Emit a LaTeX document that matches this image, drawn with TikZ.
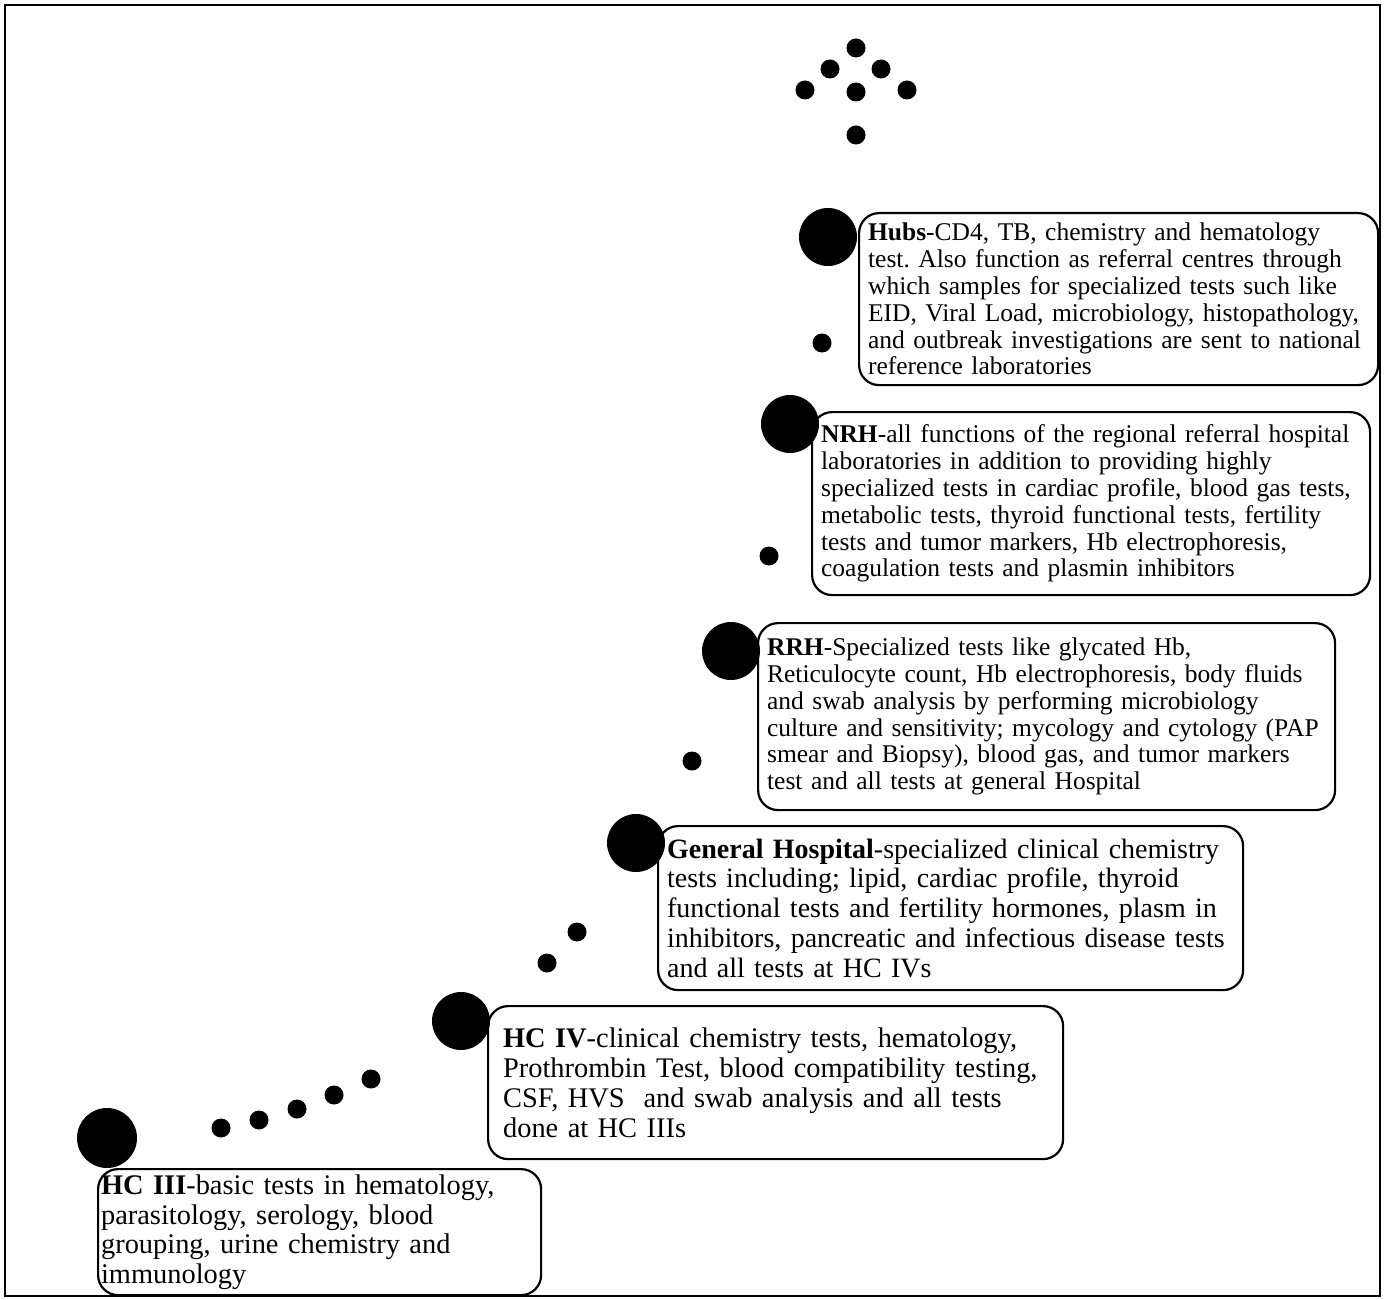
\documentclass[tikz,border=0pt]{standalone}
\usepackage{fontspec}
\setmainfont{Liberation Serif}
\frenchspacing

\begin{document}
\begin{tikzpicture}[x=0.5pt, y=-0.5pt,
      box/.style={draw, rounded corners=10pt, line width=1.1pt, align=left, anchor=north west, inner ysep=0pt},
      upper/.style={font=\fontsize{12.75}{13.4}\selectfont},
      lower/.style={font=\fontsize{14.2}{14.9}\selectfont},
      dot/.style={circle, fill, inner sep=0pt, minimum size=9.5pt},
      bigdot/.style={circle, fill, inner sep=0pt, minimum size=29pt}
    ]
      \useasboundingbox (0,0) rectangle (1384,1299);
      \draw[line width=0.8pt] (5,5) rectangle (1380,1296);

      % arrow of dots on top
      \node[dot] (tip)  at (856,48)  {};
      \node[dot] (tl)   at (830,69)  {};
      \node[dot] (tr)   at (881,69)  {};
      \node[dot] (ll)   at (805,90)  {};
      \node[dot] (mid)  at (856,92)  {};
      \node[dot] (rr)   at (907,90)  {};
      \node[dot] (stem) at (856,135) {};

      % levels
      \node[box, upper, inner xsep=4.5pt, text width=250.5pt, minimum height=86pt] (hubs) at (858,212) {\textbf{Hubs}-CD4, TB, chemistry and hematology\\
test. Also function as referral centres through\\
which samples for specialized tests such like\\
EID, Viral Load, microbiology, histopathology,\\
and outbreak investigations are sent to national\\
reference laboratories};
      \node[bigdot] (hubsdot) at (828,237) {};
      \node[dot] (d1) at (822,343) {};

      \node[box, upper, inner xsep=4.5pt, text width=270pt, minimum height=91.5pt] (nrh) at (811,411) {\textbf{NRH}-all functions of the regional referral hospital\\
laboratories in addition to providing highly\\
specialized tests in cardiac profile, blood gas tests,\\
metabolic tests, thyroid functional tests, fertility\\
tests and tumor markers, Hb electrophoresis,\\
coagulation tests and plasmin inhibitors};
      \node[bigdot] (nrhdot) at (790,424) {};
      \node[dot] (d2) at (769,556) {};

      \node[box, upper, inner xsep=4.5pt, text width=279.5pt, minimum height=93.5pt] (rrh) at (757,622) {\textbf{RRH}-Specialized tests like glycated Hb,\\
Reticulocyte count, Hb electrophoresis, body fluids\\
and swab analysis by performing microbiology\\
culture and sensitivity; mycology and cytology (PAP\\
smear and Biopsy), blood gas, and tumor markers\\
test and all tests at general Hospital};
      \node[bigdot] (rrhdot) at (731,651) {};
      \node[dot] (d3) at (692,761) {};

      \node[box, lower, font=\fontsize{14}{14.9}\selectfont, inner xsep=4.5pt, text width=283.5pt, minimum height=82pt] (gh) at (657,825) {\textbf{General Hospital}-specialized clinical chemistry\\
tests including; lipid, cardiac profile, thyroid\\
functional tests and fertility hormones, plasm in\\
inhibitors, pancreatic and infectious disease tests\\
and all tests at HC IVs};
      \node[bigdot] (ghdot) at (636,843) {};
      \node[dot] (d4) at (577,932) {};
      \node[dot] (d5) at (547,963) {};

      \node[box, lower, inner xsep=7.5pt, text width=272.5pt, minimum height=76.5pt] (hciv) at (487,1005) {\textbf{HC IV}-clinical chemistry tests, hematology,\\
Prothrombin Test, blood compatibility testing,\\
CSF, HVS\ \ and swab analysis and all tests\\
done at HC IIIs};
      \node[bigdot] (hcivdot) at (461,1021) {};
      \node[dot] (d6)  at (221,1128) {};
      \node[dot] (d7)  at (259,1120) {};
      \node[dot] (d8)  at (297,1109) {};
      \node[dot] (d9)  at (334,1095) {};
      \node[dot] (d10) at (371,1079) {};

      \node[box, lower, inner xsep=1.5pt, text width=218.5pt, minimum height=63pt] (hciii) at (97,1168) {\textbf{HC III}-basic tests in hematology,\\
parasitology, serology, blood\\
grouping, urine chemistry and\\
immunology};
      \node[bigdot, minimum size=30pt] (hciiidot) at (107,1138) {};
    \end{tikzpicture}
\end{document}
